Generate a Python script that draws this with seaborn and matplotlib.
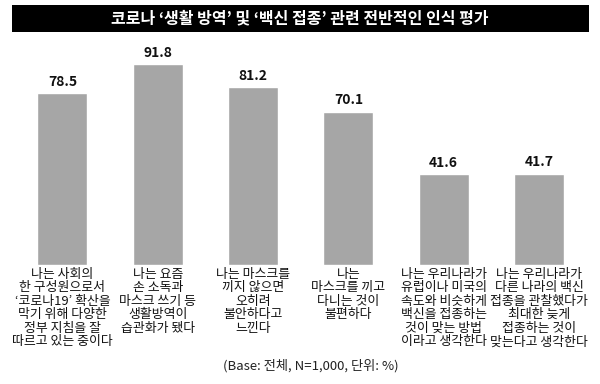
import matplotlib
matplotlib.use("Agg")
import matplotlib.pyplot as plt
import seaborn as sns
import pandas as pd
from matplotlib.patches import Rectangle

sns.set_theme(style="white")
plt.rcParams['font.family'] = ['Noto Sans CJK KR', 'DejaVu Sans']

title = "코로나 ‘생활 방역’ 및 ‘백신 접종’ 관련 전반적인 인식 평가"
labels = [
    "나는 사회의\n한 구성원으로서\n‘코로나19’ 확산을\n막기 위해 다양한\n정부 지침을 잘\n따르고 있는 중이다",
    "나는 요즘\n손 소독과\n마스크 쓰기 등\n생활방역이\n습관화가 됐다",
    "나는 마스크를\n끼지 않으면\n오히려\n불안하다고\n느낀다",
    "나는\n마스크를 끼고\n다니는 것이\n불편하다",
    "나는 우리나라가\n유럽이나 미국의\n속도와 비슷하게\n백신을 접종하는\n것이 맞는 방법\n이라고 생각한다",
    "나는 우리나라가\n다른 나라의 백신\n접종을 관찰했다가\n최대한 늦게\n접종하는 것이\n맞는다고 생각한다",
]
values = [78.5, 91.8, 81.2, 70.1, 41.6, 41.7]
footnote = "(Base: 전체, N=1,000, 단위: %)"

df = pd.DataFrame({"item": [str(i) for i in range(len(values))], "value": values})

fig = plt.figure(figsize=(6, 3.84), dpi=100)
ax = fig.add_axes([0.0247, 0.31, 0.953, 0.570])
sns.barplot(data=df, x="item", y="value", color="#a6a6a6", saturation=1,
            width=0.525, ax=ax)
ax.set_xlim(-0.5, 5.5)
ax.set_ylim(0, 100)
ax.set_xlabel("")
ax.set_ylabel("")
ax.set_yticks([])
ax.set_xticks(range(len(labels)))
ax.set_xticklabels(labels, fontsize=9.3, linespacing=1.05, color="#111111",
                   fontweight="medium")
ax.tick_params(axis="x", length=0, pad=2)
for s in ax.spines.values():
    s.set_visible(False)

for i, v in enumerate(values):
    ax.text(i, v + 2, f"{v:.1f}", ha="center", va="bottom", fontsize=10,
            fontweight="bold", color="#111111")

# title bar
fig.patches.append(Rectangle((12 / 600, 1 - 32 / 384), 577 / 600, 27 / 384,
                             transform=fig.transFigure, facecolor="black",
                             edgecolor="none"))
fig.text(0.5, 1 - 18.5 / 384, title, ha="center", va="center", color="white",
         fontsize=11.5, fontweight="bold")

fig.text(0.518, 1 - 366 / 384, footnote, ha="center", va="center", fontsize=9.5,
         color="#222222")

fig.savefig("out.png", dpi=100)
